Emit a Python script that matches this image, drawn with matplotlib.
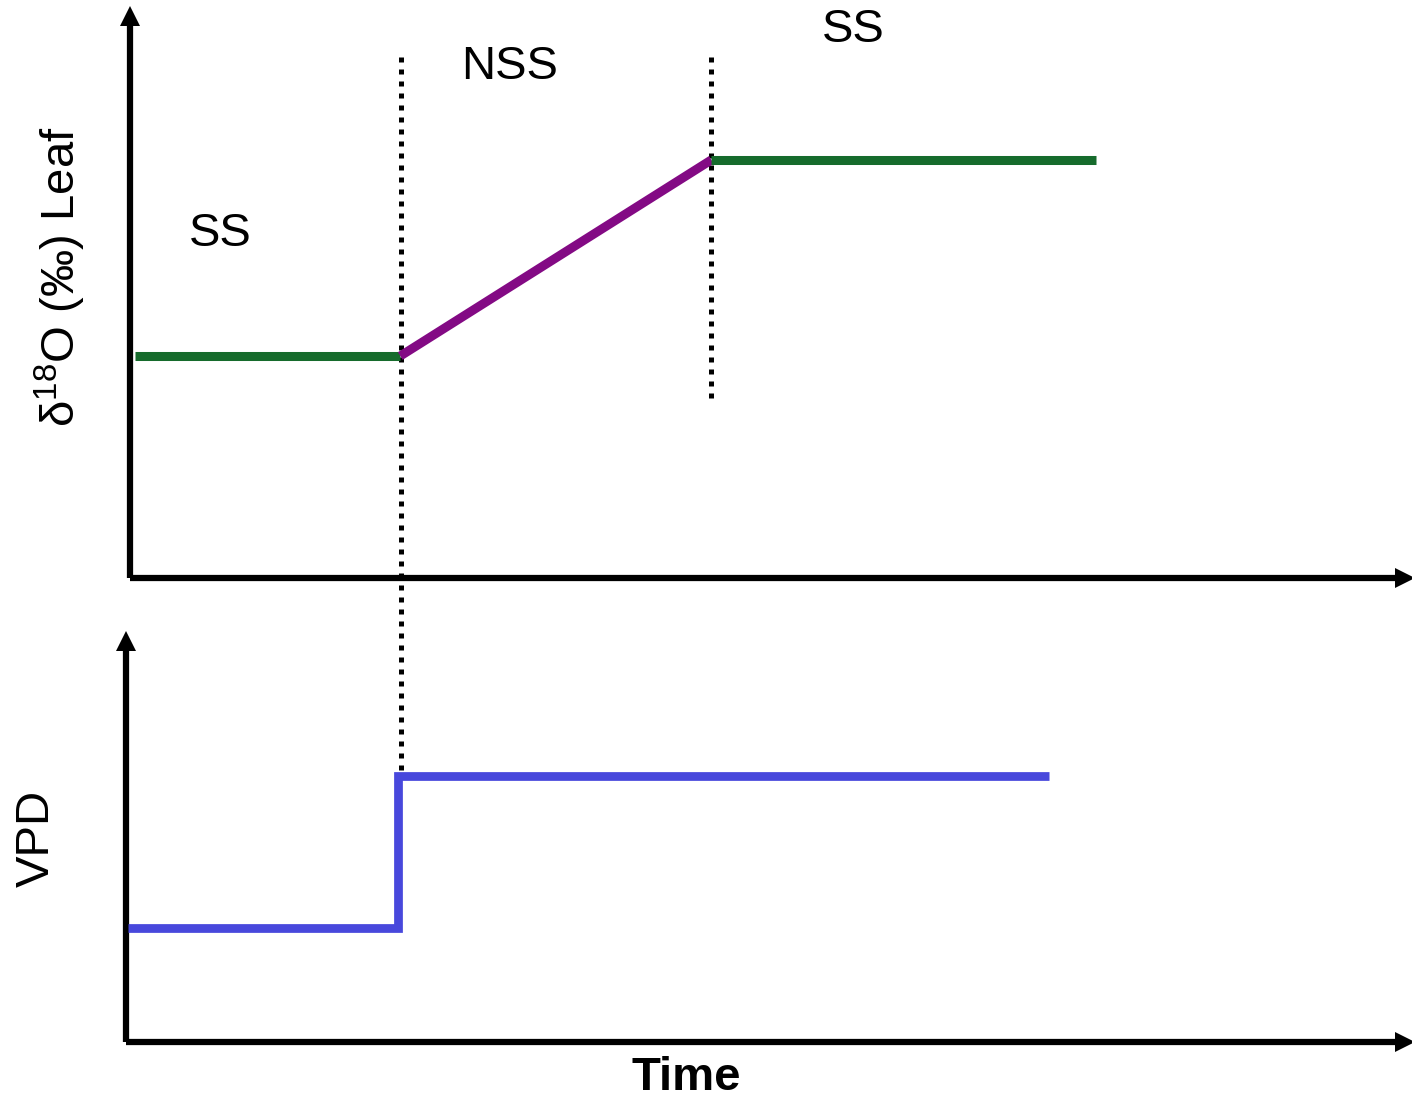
import matplotlib
matplotlib.use("Agg")
import matplotlib.pyplot as plt

plt.rcParams['font.family'] = ['Liberation Sans', 'DejaVu Sans']
plt.rcParams['mathtext.fontset'] = 'custom'
plt.rcParams['mathtext.rm'] = 'Liberation Sans'

# top panel: leaf d18O (arbitrary units, time 0..10)
ss1_t = [0.04, 2.12]
ss1_v = [3.95, 3.95]
nss_t = [2.12, 4.56]
nss_v = [3.95, 7.44]
ss2_t = [4.56, 7.58]
ss2_v = [7.44, 7.44]
# dotted phase boundaries: time, top, bottom
bound_t = [2.125, 4.56]
bound_top = [9.27, 9.27]
bound_bot = [-3.42, 3.20]

# bottom panel: VPD step
vpd_t = [0.016, 2.13, 2.13, 7.22]
vpd_v = [2.84, 2.84, 6.63, 6.63]

green = '#166b2c'
purple = '#830a84'
blue = '#4848dc'

W, H = 1412, 1100
fig = plt.figure(figsize=(W / 100, H / 100), dpi=100)


def px_axes(left, bottom, right, top):
    return fig.add_axes([left / W, 1 - bottom / H, (right - left) / W, (bottom - top) / H])


def arrow_axes(ax):
    for s in ax.spines.values():
        s.set_visible(False)
    ax.set_xticks([])
    ax.set_yticks([])
    ax.set_xlim(0, 10)
    ax.set_ylim(0, 10)
    ax.patch.set_visible(False)
    ax.plot([0, 1], [0, 0], color='k', lw=4.5, transform=ax.transAxes,
            clip_on=False, solid_capstyle='butt')
    ax.plot([0, 0], [0, 1], color='k', lw=4.5, transform=ax.transAxes,
            clip_on=False, solid_capstyle='butt')
    ax.plot(1, 0, '>', color='k', ms=14, transform=ax.transAxes, clip_on=False, mew=0)
    ax.plot(0, 1, '^', color='k', ms=14, transform=ax.transAxes, clip_on=False, mew=0)


ax1 = px_axes(130, 578, 1405, 16)
arrow_axes(ax1)
ax1.plot(ss1_t, ss1_v, color=green, lw=6.5, solid_capstyle='butt')
ax1.plot(nss_t, nss_v, color=purple, lw=6.5, solid_capstyle='butt')
ax1.plot(ss2_t, ss2_v, color=green, lw=6.5, solid_capstyle='butt')
for t, a, b in zip(bound_t, bound_top, bound_bot):
    ax1.plot([t, t], [a, b], color='k', lw=3.6, linestyle=(0, (1, 1.4)),
             clip_on=False, zorder=1)

ax2 = px_axes(126, 1042, 1405, 641)
arrow_axes(ax2)
ax2.plot(vpd_t, vpd_v, color=blue, lw=6.3, solid_joinstyle='miter',
         solid_capstyle='butt', zorder=3)

fs = 34
fig.text(220 / W, 1 - 234 / H, 'SS', fontsize=fs, ha='center', va='center')
fig.text(510 / W, 1 - 67 / H, 'NSS', fontsize=fs, ha='center', va='center')
fig.text(853 / W, 1 - 30 / H, 'SS', fontsize=fs, ha='center', va='center')
fig.text(60 / W, 1 - 277 / H, r'δ$^{\mathrm{18}}$O (‰) Leaf', fontsize=fs,
         rotation=90, ha='center', va='center')
fig.text(37 / W, 1 - 838 / H, 'VPD', fontsize=fs, rotation=90,
         ha='center', va='center')
fig.text(686 / W, 1 - 1078 / H, 'Time', fontsize=fs, fontweight='bold',
         ha='center', va='center')

fig.savefig('out.png', dpi=100)
